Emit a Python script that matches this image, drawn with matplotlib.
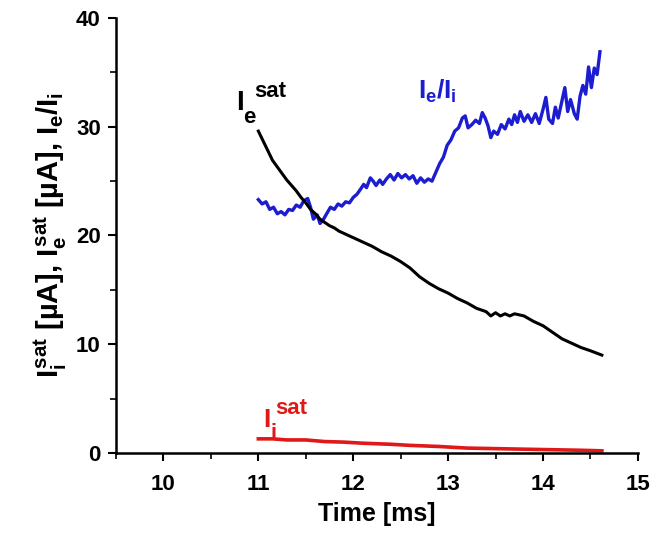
import matplotlib
matplotlib.use("Agg")
import matplotlib.pyplot as plt
from matplotlib.ticker import MultipleLocator

plt.rcParams['font.family'] = ['Liberation Sans', 'DejaVu Sans']
plt.rcParams['font.weight'] = 'bold'
plt.rcParams['mathtext.fontset'] = 'custom'
plt.rcParams['mathtext.rm'] = 'Liberation Sans:bold'
plt.rcParams['mathtext.it'] = 'Liberation Sans:bold'
plt.rcParams['mathtext.bf'] = 'Liberation Sans:bold'

# I_e / I_i ratio (blue)
ratio_t = [11.00, 11.04, 11.08, 11.12, 11.16, 11.20, 11.24, 11.28, 11.32, 11.36,
           11.40, 11.44, 11.48, 11.52, 11.55, 11.58, 11.62, 11.65, 11.68, 11.72,
           11.76, 11.80, 11.84, 11.88, 11.92, 11.96, 12.00, 12.04, 12.08, 12.11,
           12.14, 12.18, 12.21, 12.24, 12.28, 12.31, 12.35, 12.39, 12.43, 12.47,
           12.51, 12.55, 12.59, 12.63, 12.67, 12.71, 12.75, 12.79, 12.83, 12.87,
           12.91, 12.95, 12.99, 13.03, 13.07, 13.11, 13.15, 13.18, 13.21, 13.25,
           13.29, 13.33, 13.36, 13.39, 13.42, 13.45, 13.48, 13.52, 13.56, 13.60,
           13.64, 13.67, 13.70, 13.73, 13.76, 13.80, 13.84, 13.88, 13.92, 13.96,
           14.00, 14.03, 14.06, 14.10, 14.13, 14.16, 14.20, 14.23, 14.26, 14.29,
           14.33, 14.36, 14.39, 14.42, 14.45, 14.48, 14.51, 14.54, 14.57, 14.60]
ratio_v = [23.3, 22.9, 23.1, 22.4, 22.6, 22.0, 22.2, 21.9, 22.4, 22.3,
           22.8, 22.6, 23.2, 23.4, 22.6, 21.5, 21.9, 21.1, 21.4, 22.0,
           22.6, 22.4, 22.9, 22.7, 23.1, 23.0, 23.5, 23.8, 24.3, 24.7,
           24.4, 25.3, 25.0, 24.6, 25.1, 24.7, 25.2, 25.6, 25.1, 25.7,
           25.3, 25.6, 25.2, 25.5, 24.8, 25.3, 24.9, 25.2, 25.0, 25.8,
           26.6, 27.2, 28.3, 28.8, 29.6, 29.9, 30.8, 31.0, 29.9, 30.2,
           30.6, 30.3, 31.3, 30.8, 30.1, 29.0, 29.6, 29.3, 30.2, 29.8,
           30.7, 30.2, 31.1, 30.4, 31.4, 30.5, 31.1, 30.4, 31.2, 30.3,
           31.6, 32.7, 30.7, 30.3, 31.8, 30.8, 32.4, 33.6, 31.4, 32.5,
           31.2, 30.7, 32.8, 33.8, 33.0, 35.5, 33.6, 35.4, 34.8, 36.9]

# I_e^sat (black)
ie_t = [11.00, 11.05, 11.10, 11.15, 11.20, 11.25, 11.30, 11.35, 11.40, 11.45,
        11.50, 11.55, 11.60, 11.65, 11.70, 11.75, 11.80, 11.85, 11.90, 11.95,
        12.00, 12.10, 12.20, 12.30, 12.40, 12.50, 12.60, 12.70, 12.80, 12.90,
        13.00, 13.10, 13.20, 13.30, 13.40, 13.45, 13.50, 13.55, 13.60, 13.65,
        13.70, 13.75, 13.80, 13.90, 14.00, 14.10, 14.20, 14.30, 14.40, 14.50, 14.62]
ie_v = [29.6, 28.7, 27.8, 26.9, 26.3, 25.7, 25.1, 24.6, 24.1, 23.5,
        23.0, 22.4, 22.0, 21.5, 21.2, 20.9, 20.7, 20.4, 20.2, 20.0,
        19.8, 19.4, 19.0, 18.5, 18.1, 17.6, 17.0, 16.2, 15.6, 15.1,
        14.7, 14.2, 13.8, 13.3, 13.0, 12.6, 12.9, 12.6, 12.8, 12.6,
        12.8, 12.7, 12.6, 12.1, 11.7, 11.1, 10.5, 10.1, 9.7, 9.4, 9.0]

# I_i^sat (red)
ii_t = [11.00, 11.15, 11.30, 11.50, 11.70, 11.90, 12.10, 12.40, 12.60, 12.90,
        13.20, 13.50, 13.80, 14.10, 14.40, 14.62]
ii_v = [1.3, 1.3, 1.2, 1.2, 1.05, 1.0, 0.9, 0.8, 0.7, 0.6,
        0.45, 0.4, 0.35, 0.3, 0.25, 0.2]

x_ticks = [10, 11, 12, 13, 14, 15]
y_ticks = [0, 10, 20, 30, 40]

BLUE = '#1c1cd0'
RED = '#e01818'

fig = plt.figure(figsize=(6.54, 5.44), dpi=100)
ax = fig.add_axes([0.1774, 0.1673, 0.798, 0.7996])

ax.plot(ratio_t, ratio_v, color=BLUE, lw=2.4)
ax.plot(ie_t, ie_v, color='black', lw=2.2)
ax.plot(ii_t, ii_v, color=RED, lw=2.6)

ax.set_xlim(9.5, 15)
ax.set_ylim(0, 40)
ax.set_xticks(x_ticks)
ax.set_yticks(y_ticks)
ax.xaxis.set_minor_locator(MultipleLocator(0.5))
ax.yaxis.set_minor_locator(MultipleLocator(5))
for s in ['top', 'right']:
    ax.spines[s].set_visible(False)
for s in ['left', 'bottom']:
    ax.spines[s].set_linewidth(1.8)
ax.tick_params(which='major', direction='out', length=6, width=1.5, labelsize=16)
ax.tick_params(axis='x', which='major', pad=9)
ax.tick_params(axis='y', which='major', pad=5)
ax.tick_params(which='minor', direction='out', length=4, width=1.2)
for lbl in ax.get_xticklabels() + ax.get_yticklabels():
    lbl.set_fontweight('bold')

ax.set_xlabel('Time [ms]', fontsize=18, fontweight='bold', labelpad=5)
ax.set_ylabel(r'$I_i^{sat}$ [µA], $I_e^{sat}$ [µA], $I_e/I_i$', fontsize=21,
              fontweight='bold', labelpad=5)


def compound(x, y, main, sub, sup, color, sub_dx, sup_dx, size=20, small=16):
    kw = dict(xy=(x, y), xycoords='data', textcoords='offset points',
              ha='left', va='baseline', color=color, fontweight='bold')
    ax.annotate(main, xytext=(0, 0), fontsize=size, **kw)
    ax.annotate(sub, xytext=(sub_dx, -9), fontsize=small, **kw)
    ax.annotate(sup, xytext=(sup_dx, 9.5), fontsize=small, **kw)


compound(10.77, 31.5, 'I', 'e', 'sat', 'black', 5.0, 13.0)
compound(11.05, 2.4, 'I', 'i', 'sat', RED, 5.0, 8.6, size=19)
ax.text(12.68, 32.6, r'$I_e/I_i$', fontsize=19, color=BLUE)

fig.savefig('out.png', dpi=100)
